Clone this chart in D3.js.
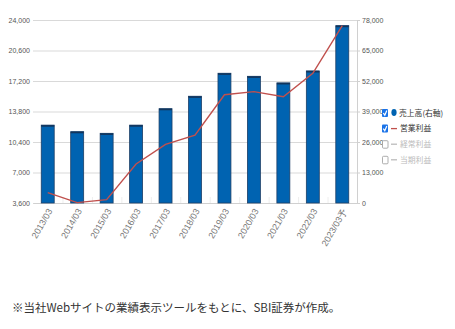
<!DOCTYPE html>
<html><head><meta charset="utf-8">
<script src="https://cdn.jsdelivr.net/npm/d3@7"></script>
<style>
html,body{margin:0;padding:0;background:#fff;}
svg{display:block;}
</style></head>
<body>
<svg id="c" width="455" height="329"></svg>
<script>
const categories = ["2013/03","2014/03","2015/03","2016/03","2017/03","2018/03","2019/03","2020/03","2021/03","2022/03","2023/03予"];
const sales = [33200,30400,29700,33200,40200,45500,55300,54000,51200,56300,75600];
const opProfit = [4750,3640,3970,7950,10140,11150,15670,16010,15450,18060,23370];
const leftTicks = [3600,7000,10400,13800,17200,20600,24000];
const rightTicks = [0,13000,26000,39000,52000,65000,78000];
const legendItems = [
  {label:"売上高(右軸)", checked:true, kind:"dot", color:"#0063b1", text:"#333"},
  {label:"営業利益", checked:true, kind:"line", color:"#c0504d", text:"#333"},
  {label:"経常利益", checked:false, kind:"line", color:"#bbb", text:"#bbb"},
  {label:"当期利益", checked:false, kind:"line", color:"#bbb", text:"#bbb"}
];
const footnote = "※当社Webサイトの業績表示ツールをもとに、SBI証券が作成。";

const svg = d3.select("#c");
const L = 33, R = 357, T = 20, B = 203;
const x = d3.scaleBand().domain(categories).range([L, R]).paddingInner(0.56).paddingOuter(0.28);
const xc = d3.scaleBand().domain(categories).range([L, R]);
const yL = d3.scaleLinear().domain([3600, 24000]).range([B, T]);
const yR = d3.scaleLinear().domain([0, 78000]).range([B, T]);
const tickFont = "Liberation Sans, Arial, sans-serif";

// gridlines
svg.append("g").selectAll("line").data(leftTicks).join("line")
  .attr("x1", L).attr("x2", R).attr("y1", d => yL(d)+0.5).attr("y2", d => yL(d)+0.5)
  .attr("stroke", "#d9d9d9").attr("stroke-width", 1);

// left axis labels
const gl = svg.append("g").attr("transform", `translate(${L},0)`)
  .call(d3.axisLeft(yL).tickValues(leftTicks).tickSize(0).tickPadding(3).tickFormat(d3.format(",")));
gl.select(".domain").remove();
gl.selectAll("text").attr("font-family", tickFont).attr("font-size", 7).attr("fill", "#555");

// right axis
const gr = svg.append("g").attr("transform", `translate(${R},0)`)
  .call(d3.axisRight(yR).tickValues(rightTicks).tickSize(3).tickPadding(2).tickFormat(d3.format(",")));
gr.select(".domain").attr("stroke", "#d0d0d0");
gr.selectAll(".tick line").attr("stroke", "#d0d0d0");
gr.selectAll("text").attr("font-family", tickFont).attr("font-size", 7).attr("fill", "#555");

// bottom axis
const gb = svg.append("g").attr("transform", `translate(0,${B})`)
  .call(d3.axisBottom(xc).tickSize(0).tickFormat(""));
gb.select(".domain").attr("stroke", "#d0d0d0");
svg.append("g").selectAll("line").data(categories.slice(1)).join("line")
  .attr("x1", d => xc(d)+0.5).attr("x2", d => xc(d)+0.5).attr("y1", B-6).attr("y2", B)
  .attr("stroke", "#eeeeee");

// x labels
svg.append("g").selectAll("text").data(categories).join("text")
  .attr("transform", d => `translate(${xc(d)+xc.bandwidth()/2+5},${B+8}) rotate(-60)`)
  .attr("text-anchor", "end").attr("font-family", tickFont).attr("font-size", 9)
  .attr("fill", "#777").text(d => d);

// bars
svg.append("g").selectAll("rect").data(sales).join("rect")
  .attr("x", (d,i) => x(categories[i]))
  .attr("width", x.bandwidth())
  .attr("y", d => yR(d))
  .attr("height", d => B - yR(d))
  .attr("fill", "#0063b1").attr("stroke", "#1d3f66").attr("stroke-width", 0.8);
svg.append("g").selectAll("line").data(sales).join("line")
  .attr("x1", (d,i) => x(categories[i])).attr("x2", (d,i) => x(categories[i]) + x.bandwidth())
  .attr("y1", d => yR(d)+0.8).attr("y2", d => yR(d)+0.8)
  .attr("stroke", "#12355c").attr("stroke-width", 1.6);

// line
const line = d3.line().x((d,i) => xc(categories[i]) + xc.bandwidth()/2).y(d => yL(d));
svg.append("path").datum(opProfit).attr("d", line)
  .attr("fill", "none").attr("stroke", "#c0504d").attr("stroke-width", 1.4);

// legend
const lg = svg.append("g");
legendItems.forEach((it, i) => {
  const cy = 113 + i * 15.6;
  const g = lg.append("g");
  if (it.checked) {
    g.append("rect").attr("x", 382).attr("y", cy-4).attr("width", 6).attr("height", 8)
      .attr("rx", 1).attr("fill", "#1a73e8");
    g.append("path").attr("d", `M383.3,${cy} L384.8,${cy+2.2} L386.8,${cy-2.6}`)
      .attr("fill", "none").attr("stroke", "#fff").attr("stroke-width", 1.2);
  } else {
    g.append("rect").attr("x", 382.5).attr("y", cy-3.5).attr("width", 5.5).attr("height", 7.5)
      .attr("rx", 1).attr("fill", "#fff").attr("stroke", "#999").attr("stroke-width", 0.8);
  }
  if (it.kind === "dot") {
    g.append("ellipse").attr("cx", 394).attr("cy", cy-0.5).attr("rx", 2.6).attr("ry", 3.4).attr("fill", it.color);
  } else {
    g.append("line").attr("x1", 391).attr("x2", 397).attr("y1", cy).attr("y2", cy)
      .attr("stroke", it.color).attr("stroke-width", 1.3);
  }
  g.append("text").attr("x", it.kind === "dot" ? 399 : 400).attr("y", cy+2.8)
    .attr("font-family", "Noto Sans CJK JP, sans-serif").attr("font-size", 7.8)
    .attr("fill", it.text).text(it.label);
});

// footnote
svg.append("text").attr("x", 12).attr("y", 312)
  .attr("font-family", "Noto Sans CJK JP, sans-serif").attr("font-size", 11.5)
  .attr("fill", "#333").text(footnote);
</script>
</body></html>
